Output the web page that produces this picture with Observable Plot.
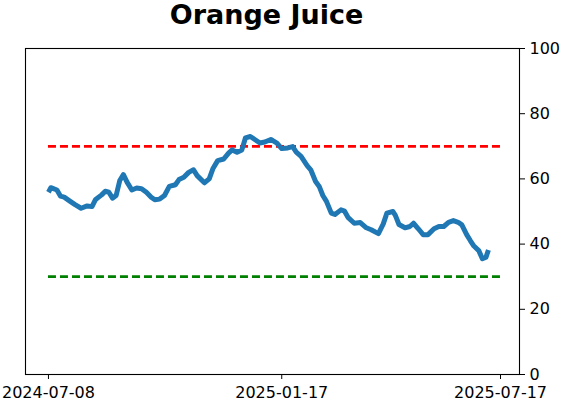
<!DOCTYPE html>
<html>
<head>
<meta charset="utf-8">
<script src="https://cdn.jsdelivr.net/npm/d3@7"></script>
<script src="https://cdn.jsdelivr.net/npm/@observablehq/plot@0.6"></script>
<style>
  html, body { margin: 0; padding: 0; background: white; }
  #chart svg { display: block; }
</style>
</head>
<body>
<div id="chart"></div>
<script>
const title = "Orange Juice";
const dates = [
  "2024-07-08","2024-07-10","2024-07-15","2024-07-18","2024-07-21","2024-07-26","2024-07-30",
  "2024-08-04","2024-08-09","2024-08-13","2024-08-16","2024-08-21","2024-08-24","2024-08-27","2024-08-30",
  "2024-09-02","2024-09-05","2024-09-08","2024-09-11","2024-09-15","2024-09-19","2024-09-23","2024-09-27",
  "2024-10-01","2024-10-04","2024-10-08","2024-10-12","2024-10-16","2024-10-21","2024-10-24","2024-10-28",
  "2024-11-01","2024-11-05","2024-11-08","2024-11-14","2024-11-18","2024-11-21","2024-11-25","2024-11-30",
  "2024-12-04","2024-12-07","2024-12-11","2024-12-15","2024-12-18","2024-12-22","2024-12-26","2024-12-30",
  "2025-01-03","2025-01-08","2025-01-13","2025-01-17","2025-01-22","2025-01-26","2025-01-29",
  "2025-02-02","2025-02-07","2025-02-10","2025-02-14","2025-02-17","2025-02-20","2025-02-23","2025-02-27",
  "2025-03-02","2025-03-07","2025-03-10","2025-03-13","2025-03-18","2025-03-23","2025-03-28",
  "2025-04-01","2025-04-07","2025-04-11","2025-04-14","2025-04-19","2025-04-21","2025-04-24","2025-04-29",
  "2025-05-03","2025-05-06","2025-05-10","2025-05-14","2025-05-18","2025-05-23","2025-05-27","2025-05-31",
  "2025-06-04","2025-06-08","2025-06-12","2025-06-15","2025-06-19","2025-06-22","2025-06-25","2025-06-29",
  "2025-07-02","2025-07-05","2025-07-07"
];
const values = [
  55.9,57.3,56.6,54.7,54.4,53.1,52.1,
  51.0,51.7,51.5,53.7,55.1,56.2,55.9,54.1,
  54.9,59.5,61.3,59.0,56.6,57.2,57.0,55.9,
  54.4,53.6,53.8,54.9,57.7,58.2,59.8,60.5,
  62.0,62.8,61.0,58.8,60.0,63.1,65.6,66.1,
  67.9,68.9,68.2,68.9,72.6,73.0,72.0,71.0,
  71.3,72.1,71.0,69.3,69.5,69.9,68.2,
  66.9,64.1,62.8,59.2,57.7,54.9,53.1,49.5,
  49.1,50.5,50.1,48.1,46.4,46.6,45.0,
  44.4,43.2,46.2,49.5,50.0,48.8,46.0,45.0,
  45.4,46.4,44.7,42.9,42.9,44.7,45.4,45.4,
  46.7,47.2,46.7,45.9,42.9,41.1,39.4,38.0,
  35.5,36.0,38.2
];
const xTicks = ["2024-07-08","2025-01-17","2025-07-17"];
const yTicks = [0, 20, 40, 60, 80, 100];
const upperLevel = 70;
const lowerLevel = 30;

const parse = d3.utcParse("%Y-%m-%d");
const series = dates.map((d, i) => ({date: parse(d), value: values[i]}));
const tickDates = xTicks.map(parse);
const bands = [
  {y: upperLevel, color: "#ff0000"},
  {y: lowerLevel, color: "#008000"}
];

const chart = Plot.plot({
  width: 562,
  height: 402,
  marginLeft: 25,
  marginRight: 43,
  marginTop: 48,
  marginBottom: 28,
  style: {fontFamily: "DejaVu Sans", fontSize: "16px", color: "black", background: "white"},
  x: {
    type: "utc",
    domain: [new Date("2024-06-19T00:00Z"), new Date("2025-08-01T17:00Z")],
    ticks: tickDates,
    tickFormat: d3.utcFormat("%Y-%m-%d"),
    tickSize: 5,
    tickPadding: 7,
    label: null
  },
  y: {
    domain: [0, 100],
    ticks: yTicks,
    axis: "right",
    tickSize: 5,
    tickPadding: 5,
    label: null
  },
  marks: [
    Plot.ruleY(bands, {
      y: "y",
      x1: tickDates[0],
      x2: tickDates[2],
      stroke: "color",
      strokeWidth: 2.7,
      strokeDasharray: "8,4"
    }),
    Plot.line(series, {
      x: "date",
      y: "value",
      stroke: "#1f77b4",
      strokeWidth: 5,
      strokeLinejoin: "round",
      strokeLinecap: "butt",
      curve: "linear"
    }),
    Plot.frame({stroke: "black", strokeWidth: 1.1}),
    Plot.text([title], {
      frameAnchor: "top",
      text: d => d,
      dy: -33,
      dx: -6,
      fontSize: 27,
      fontWeight: "bold",
      lineAnchor: "middle",
      fill: "black"
    })
  ]
});
document.getElementById("chart").appendChild(chart);
</script>
</body>
</html>
